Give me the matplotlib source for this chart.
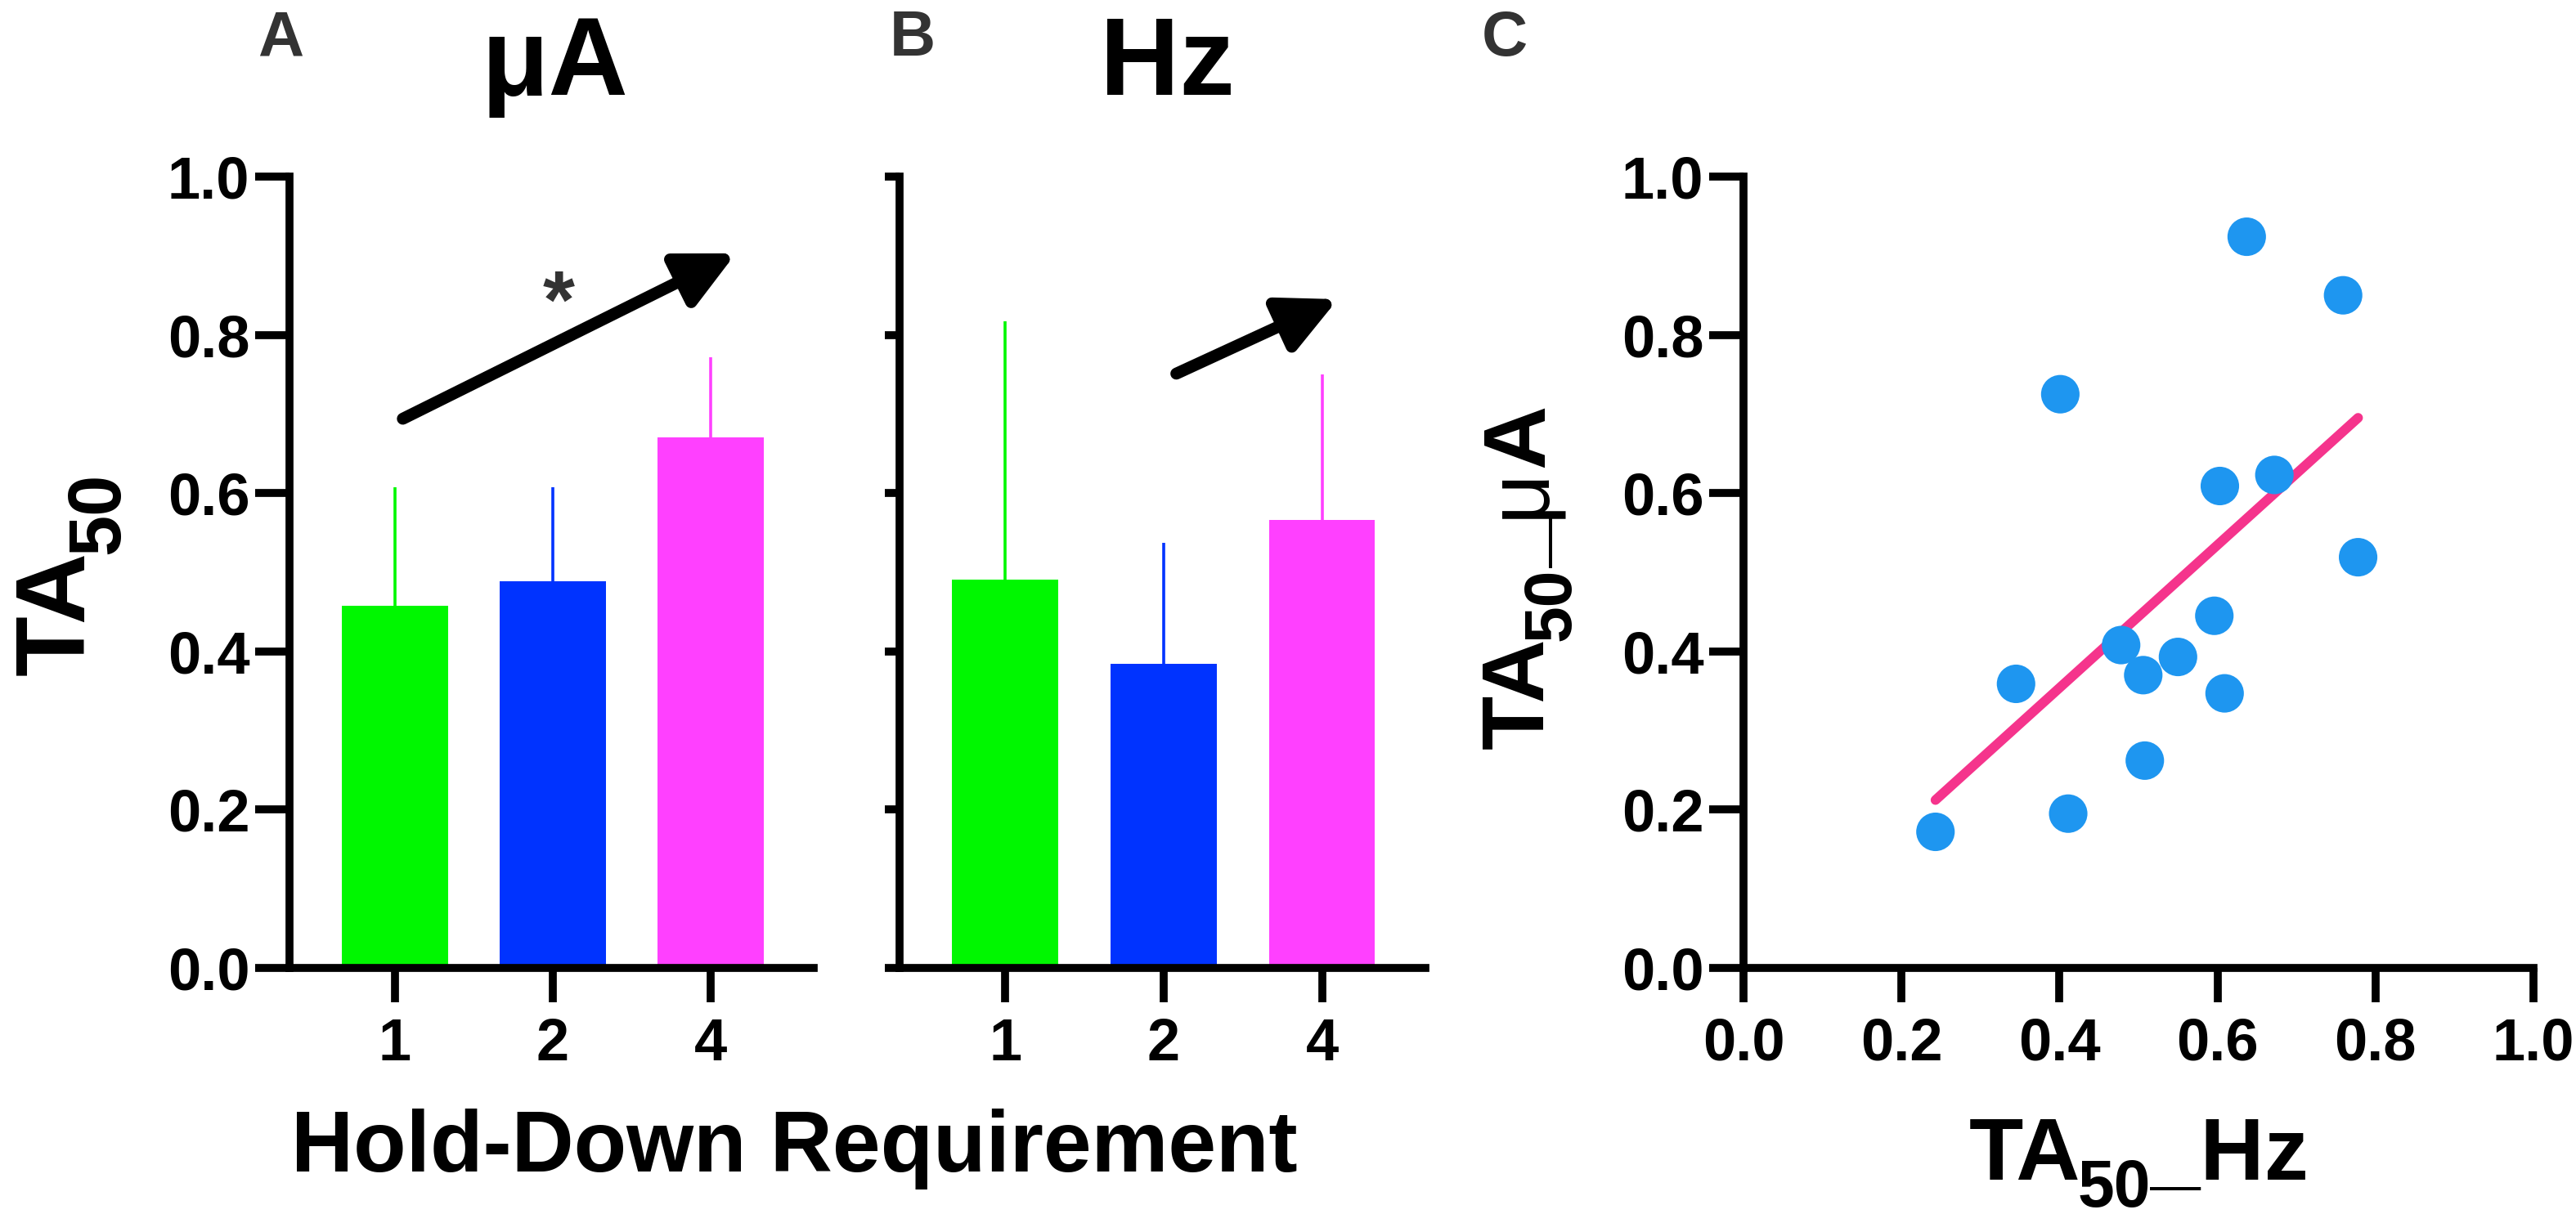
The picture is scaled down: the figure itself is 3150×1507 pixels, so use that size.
import numpy as np
import matplotlib
matplotlib.use('Agg')
import matplotlib.pyplot as plt
from matplotlib.font_manager import FontProperties, findfont, get_font
try:
    from matplotlib.ft2font import Kerning
    KERN = Kerning.DEFAULT
except Exception:
    from matplotlib.ft2font import KERNING_DEFAULT as KERN

plt.rcParams['font.family'] = ['Liberation Sans', 'DejaVu Sans']
plt.rcParams['font.weight'] = 'bold'

# ---------------- data ----------------
categories = ['1', '2', '4']
ua_means = [0.458, 0.489, 0.670]
ua_err_up = [0.149, 0.118, 0.102]
hz_means = [0.491, 0.384, 0.566]
hz_err_up = [0.326, 0.153, 0.184]
bar_colors = ['#00F700', '#0033FF', '#FF40FF']

# trend arrows (data coords: start x, start y, tip x, tip y)
ua_arrow = [0.05, 0.694, 2.16, 0.903]
hz_arrow = [1.08, 0.751, 2.10, 0.845]
star_pos = [1.04, 0.866]

scatter_hz = [0.243, 0.345, 0.401, 0.411, 0.478, 0.506, 0.508, 0.550,
              0.596, 0.603, 0.609, 0.637, 0.672, 0.759, 0.778]
scatter_ua = [0.172, 0.359, 0.725, 0.195, 0.408, 0.370, 0.262, 0.393,
              0.445, 0.609, 0.347, 0.924, 0.623, 0.850, 0.519]

yticks = [0.0, 0.2, 0.4, 0.6, 0.8, 1.0]
ytick_labels = ['0.0', '0.2', '0.4', '0.6', '0.8', '1.0']

# ---------------- figure ----------------
W, H = 3150, 1507
DPI = 100
fig = plt.figure(figsize=(W / DPI, H / DPI), dpi=DPI)

def px_ax(left, right, top, bottom):
    return fig.add_axes([left / W, 1 - bottom / H, (right - left) / W, (bottom - top) / H])

ax_top, ax_bot = 216, 1184
axA = px_ax(354, 995, ax_top, ax_bot)
axB = px_ax(1100, 1743, ax_top, ax_bot)
axC = px_ax(2132, 3098, ax_top, ax_bot)

LW = 7
TICKFS = 52

def style(ax, ylen=30, ylabels=True):
    for s in ['top', 'right']:
        ax.spines[s].set_visible(False)
    for s in ['left', 'bottom']:
        ax.spines[s].set_linewidth(LW)
    ax.tick_params(axis='x', length=30, width=LW, pad=13, labelsize=TICKFS)
    ax.tick_params(axis='y', length=ylen, width=LW, pad=5, labelsize=TICKFS,
                   labelleft=ylabels)
    ax.set_ylim(0, 1.0)
    ax.set_yticks(yticks)
    ax.set_yticklabels(ytick_labels)
    for lab in ax.get_xticklabels() + ax.get_yticklabels():
        lab.set_fontweight('bold')

xpos = np.arange(len(categories))

def bars(ax, means, err):
    ax.bar(xpos, means, width=0.67, color=bar_colors, zorder=2)
    for i in range(len(means)):
        ax.errorbar(xpos[i], means[i], yerr=[[0], [err[i]]], fmt='none',
                    ecolor=bar_colors[i], elinewidth=2.6, capsize=0, zorder=1)
    ax.set_xlim(-0.668, 2.653)
    ax.set_xticks(xpos)
    ax.set_xticklabels(categories)

def arrow(ax, a):
    ax.annotate('', xy=(a[2], a[3]), xytext=(a[0], a[1]),
                arrowprops=dict(arrowstyle='-|>,head_length=0.85,head_width=0.42',
                                mutation_scale=50, lw=10.5, color='black',
                                shrinkA=0, shrinkB=0, capstyle='round'))

# Panel A
bars(axA, ua_means, ua_err_up)
style(axA)
arrow(axA, ua_arrow)
axA.text(star_pos[0], star_pos[1] - 0.03, '*', ha='center', va='center',
         fontsize=72, fontweight='bold', color='#333333')

# Panel B
bars(axB, hz_means, hz_err_up)
style(axB, ylen=13, ylabels=False)
arrow(axB, hz_arrow)

# Panel C
axC.scatter(scatter_hz, scatter_ua, s=1150, color='#1E96F0', edgecolors='none', zorder=3)
slope, intercept = np.polyfit(scatter_hz, scatter_ua, 1)
fx = np.array([min(scatter_hz), max(scatter_hz)])
axC.plot(fx, slope * fx + intercept, color='#F5348C', lw=8.5,
         solid_capstyle='round', zorder=2)
axC.set_xlim(0, 1.0)
axC.set_xticks(yticks)
axC.set_xticklabels(ytick_labels)
style(axC)

# ---------------- texts ----------------
def ftext(x, y, s, **kw):
    fig.text(x / W, 1 - y / H, s, **kw)

def advance(s, fs, weight='bold', family='Liberation Sans'):
    font = get_font(findfont(FontProperties(family=family, weight=weight)))
    font.set_size(fs, DPI)
    tot = 0.0
    prev = None
    for c in s:
        idx = font.get_char_index(ord(c))
        if prev is not None:
            try:
                tot += font.get_kerning(prev, idx, KERN) / 64
            except Exception:
                pass
        tot += font.load_char(ord(c)).linearHoriAdvance / 65536
        prev = idx
    return tot

def compose(pieces, cx, cy, rotation=0):
    """pieces: (text, size, weight, shift_px_down, kern_after_px). (cx, cy): baseline centre."""
    advs = [advance(s, fs, wt) + k for s, fs, wt, sh, k in pieces]
    total = sum(advs)
    pos = -total / 2
    for (s, fs, wt, sh, k), a in zip(pieces, advs):
        if rotation == 0:
            x, y = cx + pos, cy + sh
        else:
            x, y = cx + sh, cy - pos
        ftext(x, y, s, fontsize=fs, fontweight=wt, rotation=rotation,
              rotation_mode='anchor', ha='left', va='baseline',
              family=['Liberation Sans', 'DejaVu Sans'])
        pos += a

for letter, x in [('A', 343), ('B', 1116), ('C', 1840)]:
    ftext(x, 68, letter, ha='center', va='baseline', fontsize=56,
          fontweight='bold', color='#333333')

ftext(678, 116, 'μA', ha='center', va='baseline', fontsize=97, fontweight='bold')
ftext(1427, 116, 'Hz', ha='center', va='baseline', fontsize=97, fontweight='bold')

ftext(971, 1433, 'Hold-Down Requirement', ha='center', va='baseline',
      fontsize=76, fontweight='bold')

compose([('TA', 87, 'bold', 0, -4), ('50', 65, 'bold', 42, 0)], 103, 702, rotation=90)
compose([('TA', 78, 'bold', 0, -4), ('50', 58, 'bold', 33, 0), ('_', 78, 'bold', 0, 0),
         ('μ', 78, 'normal', 0, 0), ('A', 78, 'bold', 0, 0)], 1887, 705, rotation=90)
compose([('TA', 78, 'bold', 0, -4), ('50', 58, 'bold', 33, 0), ('_Hz', 78, 'bold', 0, 0)],
        2615, 1443)

fig.savefig('out.png', dpi=DPI, facecolor='white')
